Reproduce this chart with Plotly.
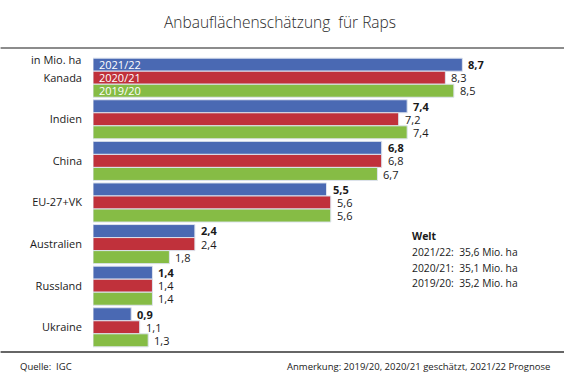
import plotly.graph_objects as go

countries = ["Kanada", "Indien", "China", "EU-27+VK", "Australien", "Russland", "Ukraine"]
seasons = ["2021/22", "2020/21", "2019/20"]
v_2122 = [8.7, 7.4, 6.8, 5.5, 2.4, 1.4, 0.9]
v_2021 = [8.3, 7.2, 6.8, 5.6, 2.4, 1.4, 1.1]
v_1920 = [8.5, 7.4, 6.7, 5.6, 1.8, 1.4, 1.3]
welt_lines = ["2021/22:  35,6 Mio. ha", "2020/21:  35,1 Mio. ha", "2019/20:  35,2 Mio. ha"]

series = [v_2122, v_2021, v_1920]
colors = ["#4a69b3", "#c0313b", "#86bc45"]

W, H = 583, 384
L, R, T, B = 92.5, 20, 55, 34
PW, PH = W - L - R, H - T - B

def px(x):
    return (x - L) / PW

def py(y):
    return (T + PH - y) / PH

FONT = "Open Sans"
fig = go.Figure()
for name, vals, col in zip(seasons, series, colors):
    fig.add_trace(go.Bar(
        y=countries, x=vals, name=name, orientation="h",
        marker=dict(color=col, line=dict(color="#dde3ee", width=1)),
        hoverinfo="x+y",
    ))

annotations = []
bar_h = PH / len(countries) * (1 - 0.06) / 3
shifts = [bar_h, 0, -bar_h]
for i, (vals, sh) in enumerate(zip(series, shifts)):
    for c, v in zip(countries, vals):
        t = f"{v:.1f}".replace(".", ",")
        if i == 0:
            t = f"<b>{t}</b>"
        annotations.append(dict(x=v, y=c, xref="x", yref="y", text=t, showarrow=False,
                                xanchor="left", yanchor="middle", xshift=4, yshift=sh,
                                font=dict(family=FONT, size=11, color="#1a1a1a")))
    annotations.append(dict(x=0, y=countries[0], xref="x", yref="y", text=seasons[i],
                            showarrow=False, xanchor="left", yanchor="middle", xshift=4,
                            yshift=sh, font=dict(family=FONT, size=11, color="white")))

annotations.append(dict(x=px(82), y=py(60), xref="paper", yref="paper", text="in Mio. ha",
                        showarrow=False, xanchor="right", yanchor="middle",
                        font=dict(family=FONT, size=11, color="#1a1a1a")))
annotations.append(dict(x=px(410), y=py(236), xref="paper", yref="paper", text="<b>Welt</b>",
                        showarrow=False, xanchor="left", yanchor="middle",
                        font=dict(family=FONT, size=10.5, color="#1a1a1a")))
for k, line in enumerate(welt_lines):
    annotations.append(dict(x=px(410), y=py(252 + 15.5 * k), xref="paper", yref="paper", text=line,
                            showarrow=False, xanchor="left", yanchor="middle",
                            font=dict(family=FONT, size=10.3, color="#1a1a1a")))
annotations.append(dict(x=px(17), y=py(366), xref="paper", yref="paper", text="Quelle:  IGC",
                        showarrow=False, xanchor="left", yanchor="middle",
                        font=dict(family=FONT, size=9.5, color="#1a1a1a")))
annotations.append(dict(x=px(552), y=py(366), xref="paper", yref="paper",
                        text="Anmerkung: 2019/20, 2020/21 geschätzt, 2021/22 Prognose",
                        showarrow=False, xanchor="right", yanchor="middle",
                        font=dict(family=FONT, size=9.5, color="#1a1a1a")))
annotations.append(dict(x=px(280), y=py(22), xref="paper", yref="paper",
                        text="Anbauflächenschätzung  für Raps",
                        showarrow=False, xanchor="center", yanchor="middle",
                        font=dict(family=FONT, size=15.5, color="#2a2a2a", weight=300)))

shapes = [
    dict(type="line", xref="paper", yref="paper", x0=px(0), x1=px(564), y0=py(48), y1=py(48),
         line=dict(color="#8c8c8c", width=2)),
    dict(type="line", xref="paper", yref="paper", x0=px(0), x1=px(564), y0=py(352), y1=py(352),
         line=dict(color="#333333", width=1.5)),
]

fig.update_layout(
    width=W, height=H,
    margin=dict(l=L, r=R, t=T, b=B, pad=0),
    barmode="group", bargap=0.06, bargroupgap=0,
    plot_bgcolor="white", paper_bgcolor="white",
    showlegend=False,
    font=dict(family=FONT, size=11, color="#1a1a1a"),
    xaxis=dict(range=[0, PW / 42.5], visible=False, fixedrange=True),
    yaxis=dict(autorange="reversed", showline=False, showgrid=False, ticks="", ticklabelstandoff=10,
               tickfont=dict(family=FONT, size=11, color="#1a1a1a"), fixedrange=True),
    annotations=annotations, shapes=shapes,
)

fig.write_html("out.html", config={"displayModeBar": False},
               post_script="document.body.style.margin='0';document.body.style.overflow='hidden';")
